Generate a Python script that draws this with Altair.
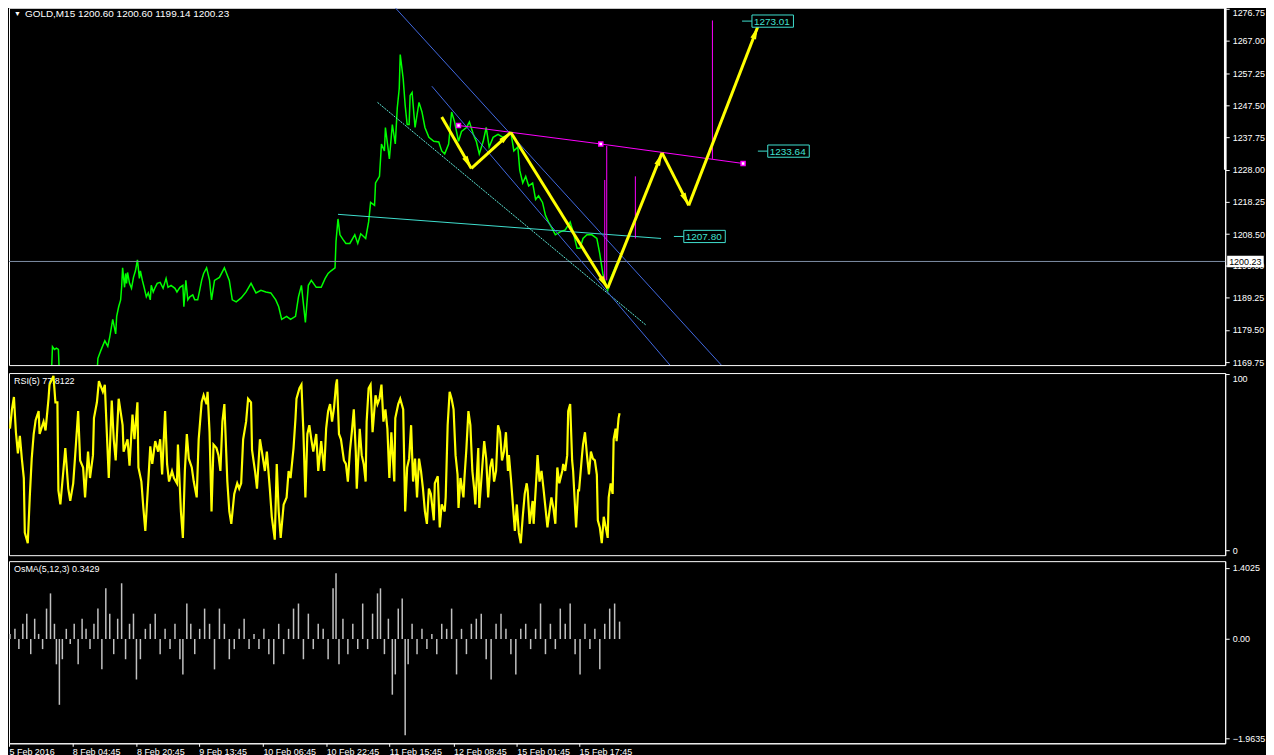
import math
import json
import altair as alt
import pandas as pd

# ---------------- data ----------------
price_bar = [3, 20, 40, 45, 46, 48, 50, 52, 53, 70,
             91, 92, 95, 99, 102, 104, 107, 110, 111, 113,
             115, 116, 117, 119, 120, 121, 122, 124, 126, 128,
             130, 132, 134, 135, 137, 139, 141, 143, 145, 146,
             148, 150, 152, 155, 158, 161, 163, 166, 170, 172,
             175, 178, 179, 181, 183, 185, 188, 190, 193, 195,
             197, 199, 202, 205, 207, 210, 215, 220, 225, 228,
             232, 237, 242, 247, 252, 257, 262, 267, 272, 275,
             278, 283, 287, 292, 295, 298, 302, 305, 308, 313,
             318, 322, 325, 328, 332, 333, 335, 337, 340, 343,
             347, 352, 355, 358, 363, 366, 368, 372, 373, 377,
             379, 382, 383, 387, 390, 393, 395, 397, 398, 401,
             403, 405, 407, 408, 410, 413, 417, 420, 423, 427,
             432, 437, 440, 443, 447, 450, 453, 457, 460, 465,
             468, 472, 475, 478, 482, 485, 488, 492, 497, 502,
             507, 510, 513, 517, 519, 522, 525, 528, 532, 535,
             538, 542, 545, 548, 552, 555, 560, 565, 570, 573,
             577, 580, 583, 587, 592, 597, 600, 603, 607, 608,
             610, 613, 617, 620]
price_close = [1163.0, 1162.5, 1165.0, 1166.5, 1174.4, 1173.6, 1174.0, 1173.6, 1166.0, 1163.0,
               1166.0, 1170.9, 1173.3, 1176.2, 1174.5, 1177.4, 1182.7, 1178.3, 1183.6, 1186.5,
               1188.6, 1192.4, 1198.3, 1192.4, 1196.6, 1193.6, 1196.9, 1193.6, 1192.1, 1195.4,
               1197.4, 1200.7, 1195.1, 1197.4, 1194.5, 1192.1, 1189.5, 1190.7, 1188.6, 1193.0,
               1191.0, 1192.4, 1193.6, 1193.9, 1192.1, 1195.1, 1192.4, 1193.0, 1192.1, 1191.0,
               1192.4, 1193.0, 1186.5, 1194.5, 1188.6, 1189.5, 1190.1, 1188.6, 1188.6, 1191.5,
               1194.5, 1196.6, 1198.3, 1194.5, 1188.6, 1194.5, 1195.4, 1198.3, 1194.5, 1188.6,
               1188.0, 1189.2, 1191.0, 1193.6, 1190.7, 1191.5, 1191.0, 1190.7, 1188.6, 1186.5,
               1182.7, 1183.6, 1182.7, 1183.6, 1189.5, 1193.0, 1181.8, 1193.0, 1194.5, 1192.4,
               1192.4, 1195.1, 1196.6, 1197.4, 1198.3, 1206.3, 1213.1, 1208.3, 1206.9, 1205.7,
               1205.7, 1208.3, 1205.7, 1208.6, 1207.2, 1212.2, 1218.1, 1217.2, 1224.0, 1226.0,
               1235.8, 1233.7, 1240.8, 1231.3, 1241.7, 1235.8, 1246.7, 1252.6, 1262.9, 1255.5,
               1247.5, 1241.7, 1241.7, 1250.5, 1251.4, 1240.8, 1248.4, 1245.5, 1240.8, 1237.8,
               1236.6, 1236.4, 1233.7, 1232.8, 1235.8, 1245.5, 1242.5, 1236.6, 1239.6, 1240.8,
               1242.5, 1238.7, 1236.6, 1232.8, 1236.6, 1240.8, 1234.9, 1237.8, 1238.7, 1237.8,
               1238.7, 1239.3, 1233.7, 1234.9, 1227.8, 1224.0, 1226.0, 1223.1, 1224.0, 1219.0,
               1220.1, 1218.1, 1214.2, 1212.2, 1210.1, 1208.3, 1209.2, 1209.8, 1212.2, 1209.2,
               1204.2, 1204.2, 1207.2, 1208.3, 1208.3, 1207.2, 1202.5, 1196.6, 1192.4, 1191.5,
               1194.5, 1196.6, 1199.5, 1200.23]

rsi_bar = [3, 5, 7, 9, 11, 13, 15, 17, 18, 21,
           23, 25, 27, 29, 32, 33, 37, 39, 42, 43,
           47, 49, 51, 52, 54, 57, 59, 62, 64, 67,
           69, 72, 74, 77, 79, 82, 84, 87, 88, 91,
           93, 97, 99, 101, 103, 106, 108, 110, 113, 117,
           118, 122, 124, 127, 129, 132, 133, 136, 138, 140,
           143, 145, 147, 150, 153, 155, 157, 160, 162, 164,
           167, 169, 172, 173, 176, 178, 180, 182, 184, 187,
           189, 192, 194, 197, 199, 202, 203, 205, 207, 209,
           212, 214, 216, 218, 220, 223, 225, 227, 230, 233,
           235, 237, 239, 242, 244, 247, 248, 251, 253, 256,
           258, 261, 263, 266, 268, 271, 273, 275, 277, 280,
           283, 285, 287, 290, 292, 293, 296, 298, 300, 302,
           304, 306, 308, 310, 313, 315, 318, 321, 323, 325,
           327, 329, 331, 333, 334, 336, 338, 341, 343, 345,
           347, 349, 351, 353, 354, 357, 359, 361, 363, 364,
           366, 368, 370, 373, 375, 377, 379, 381, 383, 385,
           387, 389, 392, 393, 396, 398, 401, 403, 405, 407,
           409, 411, 413, 415, 417, 419, 421, 423, 425, 427,
           429, 432, 433, 436, 438, 440, 443, 444, 446, 448,
           450, 452, 454, 456, 457, 459, 462, 463, 465, 467,
           469, 471, 473, 474, 477, 478, 481, 483, 485, 487,
           489, 491, 493, 495, 497, 499, 501, 503, 505, 507,
           508, 510, 512, 514, 516, 518, 520, 522, 524, 526,
           527, 529, 532, 533, 536, 537, 539, 541, 543, 545,
           547, 549, 551, 553, 555, 557, 559, 562, 563, 565,
           567, 568, 570, 572, 573, 576, 578, 579, 582, 583,
           585, 587, 589, 591, 593, 595, 597, 598, 600, 602,
           604, 606, 608, 609, 611, 613, 614, 616, 617, 619,
           620]
rsi_val = [69, 80, 87, 67, 55, 65, 52, 41, 10, 4,
           30, 52, 66, 74, 79, 66, 73, 68, 86, 94,
           99, 84, 84, 34, 26, 45, 58, 35, 28, 38,
           54, 79, 51, 47, 30, 56, 41, 54, 75, 84,
           96, 90, 94, 67, 41, 85, 63, 51, 86, 71,
           56, 63, 48, 77, 63, 84, 47, 39, 24, 11,
           39, 59, 49, 62, 56, 63, 43, 79, 49, 39,
           45, 41, 38, 60, 22, 7, 45, 66, 52, 47,
           39, 30, 63, 84, 88, 83, 90, 67, 22, 60,
           58, 54, 45, 73, 83, 39, 22, 15, 32, 38,
           35, 38, 63, 73, 86, 84, 57, 45, 35, 63,
           56, 45, 56, 35, 19, 6, 49, 22, 7, 26,
           30, 45, 41, 58, 75, 86, 92, 94, 67, 30,
           66, 71, 63, 56, 66, 45, 62, 45, 69, 79,
           83, 73, 81, 94, 97, 66, 63, 51, 49, 39,
           56, 67, 80, 56, 35, 69, 54, 49, 39, 73,
           92, 94, 67, 88, 83, 86, 94, 73, 80, 69,
           41, 67, 39, 75, 83, 86, 80, 22, 47, 52,
           71, 39, 52, 30, 52, 45, 35, 22, 15, 35,
           32, 17, 38, 42, 13, 26, 22, 30, 71, 90,
           86, 80, 54, 43, 24, 41, 30, 41, 58, 79,
           71, 45, 34, 26, 58, 24, 47, 62, 52, 30,
           47, 52, 39, 45, 71, 67, 51, 56, 67, 45,
           54, 41, 26, 11, 26, 10, 4, 19, 32, 38,
           34, 15, 28, 15, 43, 54, 39, 45, 35, 24,
           13, 22, 30, 24, 15, 47, 38, 45, 49, 45,
           54, 79, 83, 51, 45, 13, 34, 34, 54, 60,
           67, 54, 43, 56, 52, 51, 43, 17, 13, 4,
           19, 13, 7, 30, 38, 32, 63, 69, 62, 75,
           77.81]

osma_bar = [3, 8, 12, 16, 20, 24, 28, 32, 36, 40,
            44, 48, 50, 53, 56, 60, 64, 68, 72, 76,
            80, 84, 88, 92, 96, 100, 104, 108, 112, 116,
            120, 124, 128, 131, 135, 140, 145, 150, 155, 160,
            165, 170, 175, 178, 182, 186, 190, 195, 200, 205,
            210, 215, 220, 225, 230, 235, 240, 245, 250, 255,
            260, 265, 270, 275, 280, 285, 290, 295, 300, 305,
            310, 315, 320, 325, 330, 333, 336, 340, 345, 350,
            355, 360, 365, 370, 375, 378, 382, 386, 390, 393,
            396, 400, 403, 406, 410, 415, 420, 425, 430, 435,
            440, 445, 450, 455, 460, 465, 470, 475, 480, 485,
            490, 495, 500, 505, 510, 515, 520, 525, 530, 535,
            540, 545, 550, 555, 560, 565, 570, 575, 580, 585,
            590, 595, 600, 605, 610, 615, 620]
osma_val = [0.1, 0.2, -0.2, 0.3, 0.5, -0.3, 0.4, 0.1, -0.2, 0.6,
            0.9, 0.3, -0.5, -1.3, -0.4, 0.2, -0.1, 0.3, -0.5, 0.4,
            0.2, -0.2, 0.3, 0.6, -0.6, 1.0, 0.5, -0.3, 0.4, 1.1,
            -0.4, 0.3, 0.5, -0.8, -0.4, 0.2, 0.3, 0.5, -0.3, 0.2,
            -0.2, 0.3, -0.4, -0.7, 0.7, 0.3, -0.3, 0.2, 0.6, 0.3,
            -0.6, 0.6, 0.3, -0.4, -0.2, 0.2, 0.4, -0.2, 0.1, -0.2,
            0.2, -0.3, -0.5, 0.3, -0.3, 0.2, 0.6, 0.7, -0.4, 0.5,
            -0.2, 0.3, 0.2, -0.4, 1.0, 1.3, -0.5, 0.4, -0.3, 0.3,
            -0.2, 0.7, -0.2, 0.5, 0.9, 1.0, -0.3, 0.4, -1.1, -0.7,
            0.6, 0.8, -1.9, -0.5, 0.3, -0.3, 0.2, -0.2, 0.1, -0.3,
            0.3, 0.2, 0.6, -0.7, 0.2, -0.3, 0.3, 0.4, 0.5, -0.4,
            -0.8, 0.3, 0.5, 0.2, -0.3, -0.7, 0.2, 0.3, -0.2, 0.2,
            0.7, -0.3, 0.3, -0.2, 0.6, 0.3, 0.7, -0.3, -0.7, 0.3,
            -0.2, 0.2, -0.6, 0.3, 0.6, 0.7, 0.3429]

time_pos = [2, 66, 131, 194, 259, 323, 387, 452, 516, 579]
time_labels = ["5 Feb 2016", "8 Feb 04:45", "8 Feb 20:45", "9 Feb 13:45", "10 Feb 06:45",
               "10 Feb 22:45", "11 Feb 15:45", "12 Feb 08:45", "15 Feb 01:45", "15 Feb 17:45"]
price_ticks = [1169.75, 1179.50, 1189.25, 1199.00, 1208.50, 1218.25, 1228.00,
               1237.75, 1247.50, 1257.25, 1267.00, 1276.75]
rsi_ticks = [0, 100]
osma_ticks = [-1.9635, 0.0, 1.4025]

bid_price = 1200.23

# trend lines (start bar, start price, end bar, end price)
cyan_bar = [335, 375]
cyan_p = [1214.5, 1248.4]
cyan_bar2 = [662, 647]
cyan_p2 = [1207.2, 1180.9]

blue_bar = [393, 430]
blue_p = [1277.04, 1253.3]
blue_bar2 = [723, 671]
blue_p2 = [1168.85, 1168.85]

mag_bar = [457, 601, 745]
mag_p = [1241.4, 1235.8, 1229.9]

spike_bar = [605, 607, 636, 714]
spike_top = [1224.9, 1235.2, 1226.0, 1273.2]
spike_bot = [1194.5, 1194.5, 1207.2, 1231.3]

label_text = ["1273.01", "1233.64", "1207.80"]
label_bar = [754, 770, 685]
label_price = [1273.01, 1233.64, 1207.80]

arrow_bar = [440, 470, 510, 608, 663, 690, 760]
arrow_price = [1244.0, 1228.4, 1239.3, 1192.1, 1233.1, 1217.2, 1271.4]

# ---------------- layout ----------------
W = 1222
H_MAIN, H_RSI, H_OSMA = 359, 183, 183
X_DOM = [2, 1233]
P_DOM = [1168.85, 1277.04]
R_DOM = [-2.8, 100.6]
O_DOM = [-2.06, 1.537]
FONT = "Liberation Sans"

xs = alt.Scale(domain=X_DOM, nice=False, zero=False)
ps = alt.Scale(domain=P_DOM, nice=False, zero=False)


def X(f="bar"):
    return alt.X(f + ":Q", scale=xs, axis=None)


price_axis = alt.Axis(orient="right", values=price_ticks, format=".2f", title=None,
                      tickSize=4, labelPadding=3, labelOverlap=False, labelFlush=False,
                      labelBaseline={"condition": {"test": "datum.value > 1276", "value": "top"},
                                     "value": "middle"})


def Y(f="p"):
    return alt.Y(f + ":Q", scale=ps, axis=price_axis)


price_df = pd.DataFrame({"bar": price_bar, "p": price_close})

bid = alt.Chart(pd.DataFrame({"p": [bid_price]})).mark_rule(
    color="#7f8fa6", strokeWidth=1).encode(y=Y())

price_line = alt.Chart(price_df).mark_line(
    color="#00ff00", strokeWidth=1.5, clip=True).encode(x=X(), y=Y())

cyan_df = pd.DataFrame({"bar": cyan_bar, "p": cyan_p, "bar2": cyan_bar2, "p2": cyan_p2})
cyan_h = alt.Chart(cyan_df.iloc[[0]]).mark_rule(color="#40e0d0", strokeWidth=1, clip=True).encode(
    x=X(), y=Y(), x2="bar2:Q", y2="p2:Q")
cyan_d = alt.Chart(cyan_df.iloc[[1]]).mark_rule(color="#5fe8d8", strokeWidth=1, strokeDash=[2, 1],
                                                 clip=True).encode(x=X(), y=Y(), x2="bar2:Q", y2="p2:Q")

blue_df = pd.DataFrame({"bar": blue_bar, "p": blue_p, "bar2": blue_bar2, "p2": blue_p2})
blue = alt.Chart(blue_df).mark_rule(color="#4169e1", strokeWidth=1, clip=True).encode(
    x=X(), y=Y(), x2="bar2:Q", y2="p2:Q")

mag_df = pd.DataFrame({"bar": mag_bar, "p": mag_p})
mag_line = alt.Chart(mag_df).mark_line(color="#ff00ff", strokeWidth=1).encode(x=X(), y=Y())
mag_pts = alt.Chart(mag_df).mark_point(shape="square", filled=True, fill="white", stroke="#ff00ff",
                                       strokeWidth=1.5, size=16, opacity=1).encode(x=X(), y=Y())

spike_df = pd.DataFrame({"bar": spike_bar, "p": spike_top, "p2": spike_bot})
spikes = alt.Chart(spike_df).mark_rule(color="#ff00ff", strokeWidth=1).encode(x=X(), y=Y(), y2="p2:Q")

lab_df = pd.DataFrame({"bar": label_bar, "p": label_price, "t": label_text})
lab_df["bar2"] = lab_df["bar"] + 42
lab_df["lead"] = lab_df["bar"] - 10
lab_df["ptop"] = lab_df["p"] + 1.85
lab_df["pbot"] = lab_df["p"] - 1.85
lab_df["tx"] = lab_df["bar"] + 2
lab_lead = alt.Chart(lab_df).mark_rule(color="#40e0d0", strokeWidth=1).encode(
    x=X("lead"), x2="bar:Q", y=Y())
lab_box = alt.Chart(lab_df).mark_rect(fill="black", stroke="#40e0d0", strokeWidth=1).encode(
    x=X("bar"), x2="bar2:Q", y=Y("ptop"), y2="pbot:Q")
lab_txt = alt.Chart(lab_df).mark_text(color="#40e0d0", font=FONT, fontSize=10, align="left",
                                      baseline="middle", dy=0.5).encode(x=X("tx"), y=Y(), text="t:N")

# yellow arrows
kx = W / (X_DOM[1] - X_DOM[0])
ky = H_MAIN / (P_DOM[1] - P_DOM[0])
seg = pd.DataFrame({"bar": arrow_bar[:-1], "p": arrow_price[:-1],
                    "bar2": arrow_bar[1:], "p2": arrow_price[1:]})
seg["ang"] = [
    math.degrees(math.atan2((b2 - b1) * kx, (p2 - p1) * ky)) % 360
    for b1, p1, b2, p2 in zip(seg["bar"], seg["p"], seg["bar2"], seg["p2"])
]
arrows = alt.Chart(seg).mark_rule(color="#ffff00", strokeWidth=3).encode(
    x=X(), y=Y(), x2="bar2:Q", y2="p2:Q")
heads = alt.Chart(seg).mark_point(shape="M0,0 L0.6,2.6 L-0.6,2.6 Z", filled=True, color="#ffff00",
                                  opacity=1, size=100, strokeWidth=0).encode(
    x=X("bar2"), y=Y("p2"), angle=alt.Angle("ang:Q", scale=None))

# bid label on the price scale
bid_df = pd.DataFrame({"bar": [1235], "bar2": [1272], "p": [bid_price],
                       "ptop": [bid_price + 1.75], "pbot": [bid_price - 1.75],
                       "t": [f"{bid_price:.2f}"], "tx": [1237]})
bid_box = alt.Chart(bid_df).mark_rect(fill="white").encode(
    x=X("bar"), x2="bar2:Q", y=Y("ptop"), y2="pbot:Q")
bid_txt = alt.Chart(bid_df).mark_text(color="black", font=FONT, fontSize=9, align="left",
                                      baseline="middle", dy=0.5).encode(x=X("tx"), y=Y(), text="t:N")

thick_df = pd.DataFrame({"bar": [X_DOM[1]], "p": [1228.0], "p2": [P_DOM[1]]})
thick = alt.Chart(thick_df).mark_rule(color="white", strokeWidth=2.5).encode(x=X(), y=Y(), y2="p2:Q")

head_df = pd.DataFrame({"t": ["GOLD,M15  1200.60 1200.60 1199.14 1200.23"]})
header = alt.Chart(head_df).mark_text(color="white", font=FONT, fontSize=10, align="left",
                                      baseline="middle").encode(
    x=alt.value(16), y=alt.value(6), text="t:N")
tri = alt.Chart(pd.DataFrame({"t": ["▼"]})).mark_text(color="white", fontSize=7, align="left",
                                                      baseline="middle").encode(
    x=alt.value(5), y=alt.value(6), text="t:N")

main = alt.layer(price_line, bid, cyan_h, cyan_d, blue, spikes, mag_line, mag_pts,
                 arrows, heads, lab_lead, lab_box, lab_txt, bid_box, bid_txt, thick,
                 header, tri).properties(width=W, height=H_MAIN)

# RSI
rsi_df = pd.DataFrame({"bar": rsi_bar, "v": rsi_val})
rsi_axis = alt.Axis(orient="right", values=rsi_ticks, format="d", title=None, tickSize=4,
                    labelPadding=3, labelOverlap=False, labelFlush=False,
                    labelBaseline={"condition": {"test": "datum.value > 50", "value": "top"},
                                   "value": "middle"})
rsi_line = alt.Chart(rsi_df).mark_line(color="#ffff00", strokeWidth=2.2, clip=True).encode(
    x=X(), y=alt.Y("v:Q", scale=alt.Scale(domain=R_DOM, nice=False, zero=False), axis=rsi_axis))
rsi_head = alt.Chart(pd.DataFrame({"t": ["RSI(5) 77.8122"]})).mark_text(
    color="white", font=FONT, fontSize=9, align="left", baseline="middle").encode(
    x=alt.value(5), y=alt.value(8), text="t:N")
rsi = alt.layer(rsi_head, rsi_line).properties(width=W, height=H_RSI)

# OsMA
osma_df = pd.DataFrame({"bar": osma_bar, "v": osma_val})
labels_js = json.dumps(time_labels)
pos_js = json.dumps(time_pos)
time_axis = alt.Axis(orient="bottom", values=time_pos, title=None, tickSize=3, labelPadding=1,
                     labelAlign="left", labelBaseline="top", labelOverlap=False, labelFlush=False,
                     labelExpr=f"{labels_js}[indexof({pos_js}, datum.value)]")
osma_axis = alt.Axis(orient="right", values=osma_ticks, title=None, tickSize=4, labelPadding=3,
                     labelOverlap=False, labelFlush=False,
                     labelExpr="datum.value == 0 ? '0.00' : format(datum.value, '.4f')")
osma_bars = alt.Chart(osma_df).mark_rule(color="#c0c0c0", strokeWidth=1.5).encode(
    x=alt.X("bar:Q", scale=xs, axis=time_axis),
    y=alt.Y("v:Q", scale=alt.Scale(domain=O_DOM, nice=False, zero=False), axis=osma_axis),
    y2=alt.Y2(datum=0))
osma_head = alt.Chart(pd.DataFrame({"t": ["OsMA(5,12,3) 0.3429"]})).mark_text(
    color="white", font=FONT, fontSize=9, align="left", baseline="middle").encode(
    x=alt.value(5), y=alt.value(8), text="t:N")
osma = alt.layer(osma_bars, osma_head).properties(width=W, height=H_OSMA)

chart = alt.vconcat(main, rsi, osma, spacing=4).resolve_scale(x="independent").properties(
    background="black", padding={"top": -4, "left": 0, "right": 0, "bottom": 0}
).configure_view(stroke="white", strokeWidth=1).configure_axis(
    labelColor="white", tickColor="white", domainColor="white", labelFont=FONT,
    labelFontSize=9, grid=False, domainWidth=1, tickWidth=1
)

chart.save("out.html", embed_options={"renderer": "svg", "actions": False})
